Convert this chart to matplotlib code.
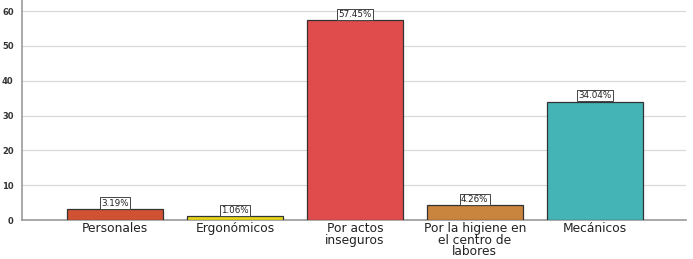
import matplotlib
matplotlib.use("Agg")
import matplotlib.pyplot as plt

categories = ["Personales", "Ergonómicos", "Por actos\ninseguros",
              "Por la higiene en\nel centro de\nlabores", "Mecánicos"]
values = [3.19, 1.06, 57.45, 4.26, 34.04]
colors = ["#d05233", "#e6d71c", "#e04c4c", "#c9843d", "#44b4b6"]
yticks = [0, 10, 20, 30, 40, 50, 60]

fig = plt.figure(figsize=(6.93, 2.59), dpi=100)
ax = fig.add_axes([22 / 693, 39 / 259, 664 / 693, 220 / 259])

x = list(range(len(categories)))
ax.bar(x, values, width=0.8, color=colors, edgecolor="#333333", linewidth=0.9, zorder=3)
for xi, v in zip(x, values):
    ax.text(xi, v + 0.4, f"{v:.2f}%", ha="center", va="bottom", fontsize=6.3,
            color="#222222", zorder=4,
            bbox=dict(boxstyle="square,pad=0.12", fc="white", ec="#444444", lw=0.7))

ax.set_xlim(-0.775, 4.76)
ax.set_ylim(0, 63.2)
ax.set_yticks(yticks)
ax.set_yticklabels([str(t) for t in yticks], fontsize=6, color="#333333", fontweight="bold")
ax.set_xticks(x)
ax.set_xticklabels(categories, fontsize=8.8, color="#222222", linespacing=0.85)
ax.tick_params(axis="x", length=0, pad=1.5)
ax.tick_params(axis="y", length=0, pad=6)
ax.grid(axis="y", color="#d9d9d9", lw=0.9, zorder=0)
for s in ["top", "right"]:
    ax.spines[s].set_visible(False)
for s in ["left", "bottom"]:
    ax.spines[s].set_color("#999999")
    ax.spines[s].set_linewidth(1.2)

fig.savefig("out.png", dpi=100)
